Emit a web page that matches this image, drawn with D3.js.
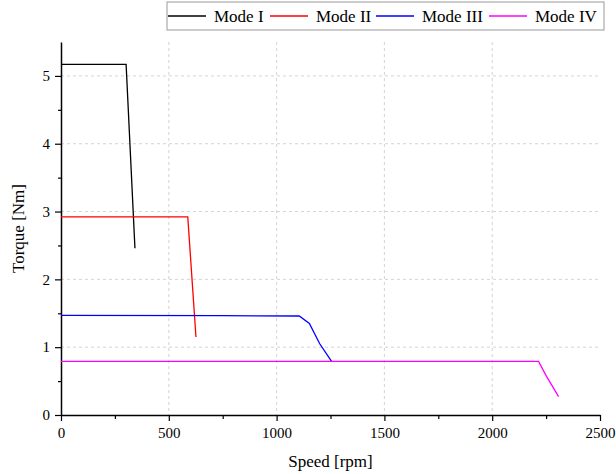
<!DOCTYPE html>
<html>
<head>
<meta charset="utf-8">
<script src="https://cdn.jsdelivr.net/npm/d3@7/dist/d3.min.js"></script>
<style>
  body { margin: 0; background: #fff; }
  svg { font-family: "Liberation Serif", "Times New Roman", serif; }
</style>
</head>
<body>
<svg id="chart" width="616" height="474"></svg>
<script>
// ---- data ----
const modeNames = ["Mode I", "Mode II", "Mode III", "Mode IV"];
const modeColors = ["#000000", "#ff0000", "#0000ff", "#ff00ff"];

const modeI_speed = [0, 302, 343];
const modeI_torque = [5.17, 5.17, 2.46];

const modeII_speed = [0, 588, 626];
const modeII_torque = [2.92, 2.92, 1.15];

const modeIII_speed = [0, 750, 1105, 1152, 1200, 1255];
const modeIII_torque = [1.47, 1.465, 1.46, 1.35, 1.05, 0.79];

const modeIV_speed = [0, 2215, 2250, 2308];
const modeIV_torque = [0.79, 0.79, 0.58, 0.27];

const xTicks = [0, 500, 1000, 1500, 2000, 2500];
const yTicks = [0, 1, 2, 3, 4, 5];

const series = [
  [modeI_speed, modeI_torque],
  [modeII_speed, modeII_torque],
  [modeIII_speed, modeIII_torque],
  [modeIV_speed, modeIV_torque]
].map(([s, t], i) => ({
  name: modeNames[i],
  color: modeColors[i],
  values: s.map((v, j) => ({ speed: v, torque: t[j] }))
}));

// ---- layout ----
const svg = d3.select("#chart");
const serif = "'Liberation Serif', 'Times New Roman', serif";
const margin = { left: 61, right: 16, top: 42, bottom: 59 };
const width = 616 - margin.left - margin.right;
const height = 474 - margin.top - margin.bottom;

const g = svg.append("g").attr("transform", `translate(${margin.left},${margin.top})`);

const x = d3.scaleLinear().domain([0, 2500]).range([0, width]);
const y = d3.scaleLinear().domain([0, 5.5]).range([height, 0]);

// grid
g.append("g")
  .selectAll("line")
  .data(xTicks.filter(d => d > 0 && d < 2500))
  .join("line")
  .attr("x1", d => x(d)).attr("x2", d => x(d))
  .attr("y1", 0).attr("y2", height)
  .attr("stroke", "#c8c8c8")
  .attr("stroke-dasharray", "3,3")
  .attr("stroke-width", 0.8);

g.append("g")
  .selectAll("line")
  .data(yTicks.filter(d => d > 0))
  .join("line")
  .attr("x1", 0).attr("x2", width)
  .attr("y1", d => y(d)).attr("y2", d => y(d))
  .attr("stroke", "#c8c8c8")
  .attr("stroke-dasharray", "3,3")
  .attr("stroke-width", 0.8);

// minor ticks
g.append("g")
  .attr("transform", `translate(0,${height})`)
  .call(d3.axisBottom(x).tickValues([250, 750, 1250, 1750, 2250]).tickSize(4).tickFormat(""))
  .call(a => a.select(".domain").remove())
  .selectAll("line").attr("stroke", "#000").attr("stroke-width", 1.2);

g.append("g")
  .call(d3.axisLeft(y).tickValues([0.5, 1.5, 2.5, 3.5, 4.5]).tickSize(3).tickFormat(""))
  .call(a => a.select(".domain").remove())
  .selectAll("line").attr("stroke", "#000").attr("stroke-width", 1.2);

// axes
const xAxis = g.append("g")
  .attr("transform", `translate(0,${height})`)
  .call(d3.axisBottom(x).tickValues(xTicks).tickFormat(d3.format("d"))
    .tickSize(6).tickSizeOuter(0).tickPadding(6));
const yAxis = g.append("g")
  .call(d3.axisLeft(y).tickValues(yTicks).tickFormat(d3.format("d"))
    .tickSize(6).tickSizeOuter(0).tickPadding(5));

[xAxis, yAxis].forEach(a => {
  a.attr("font-family", serif).attr("font-size", 15);
  a.select(".domain").attr("stroke", "#000").attr("stroke-width", 1.5);
  a.selectAll(".tick line").attr("stroke", "#000").attr("stroke-width", 1.2);
  a.selectAll("text").attr("fill", "#000");
});

// lines
const line = d3.line().x(d => x(d.speed)).y(d => y(d.torque));
g.append("g")
  .selectAll("path")
  .data(series)
  .join("path")
  .attr("fill", "none")
  .attr("stroke", d => d.color)
  .attr("stroke-width", 1.3)
  .attr("d", d => line(d.values));

// axis titles
svg.append("text")
  .attr("x", margin.left + width / 2)
  .attr("y", 467)
  .attr("text-anchor", "middle")
  .attr("font-family", serif)
  .attr("font-size", 17)
  .text("Speed [rpm]");

svg.append("text")
  .attr("transform", `translate(24,${margin.top + height / 2}) rotate(-90)`)
  .attr("text-anchor", "middle")
  .attr("font-family", serif)
  .attr("font-size", 17)
  .text("Torque [Nm]");

// legend
const legend = svg.append("g");
legend.append("rect")
  .attr("x", 167).attr("y", 2)
  .attr("width", 437).attr("height", 28)
  .attr("fill", "#fff")
  .attr("stroke", "#999")
  .attr("stroke-width", 1);

const legendX = [168, 270, 376, 489];
series.forEach((s, i) => {
  const lx = legendX[i];
  legend.append("line")
    .attr("x1", lx).attr("x2", lx + 38)
    .attr("y1", 16).attr("y2", 16)
    .attr("stroke", s.color)
    .attr("stroke-width", 1.3);
  legend.append("text")
    .attr("x", lx + 46)
    .attr("y", 22)
    .attr("font-family", serif)
    .attr("font-size", 17)
    .text(s.name);
});
</script>
</body>
</html>
